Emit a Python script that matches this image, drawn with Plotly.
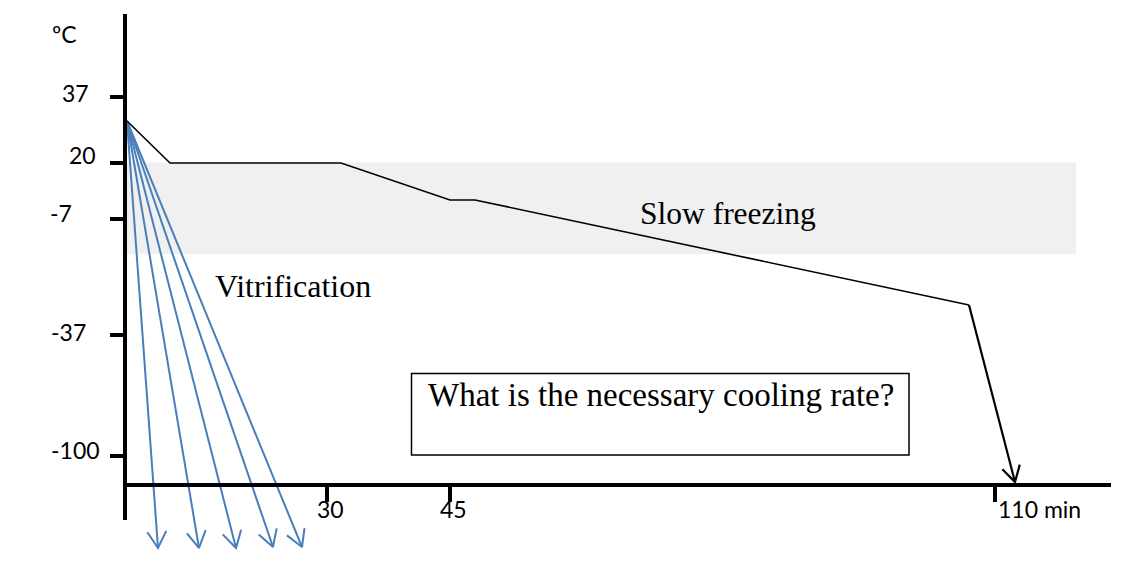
import numpy as np
import plotly.graph_objects as go

# ---------------- data (schematic diagram units: u = time axis, v = temperature axis) -------------
Y_TICK_POS = [388, 322, 266, 150, 29]
Y_TICK_TEXT = ["37", "20", "-7", "-37", "-100"]
Y_UNIT = "ºC"

X_TICK_POS = [202, 325, 870]
X_TICK_TEXT = ["30", "45", "110 min"]

# slow-freezing curve
SLOW_U = [2, 45, 216, 325, 350, 844, 890]
SLOW_V = [364, 322, 322, 285, 285, 180, 3]

# vitrification arrows (common start, five end points)
VIT_START_U = 2
VIT_START_V = 364
VIT_END_U = [33, 74, 111, 148, 177]
VIT_END_V = [-63, -63, -63, -62, -62]

# slow freezing zone
BAND_U = [0, 951]
BAND_V = [231, 322.5]

LABEL_VIT = "Vitrification"
LABEL_SLOW = "Slow freezing"
QUESTION = "What is the necessary cooling rate?"

# ---------------- layout constants -------------
PAGE_MARGIN = 8          # default body margin of the html page
W, H = 1140 - PAGE_MARGIN, 582 - PAGE_MARGIN
AX_X = 125 - PAGE_MARGIN   # figure pixel column of the vertical axis
AX_Y = 485 - PAGE_MARGIN   # figure pixel row of the horizontal axis
BLUE = "#4A7EBB"
SANS = "Lato"
SERIF = "Liberation Serif"


def U(px):   # screen pixel column -> diagram u
    return px - 125


def V(py):   # screen pixel row -> diagram v
    return 485 - py


fig = go.Figure()

# grey band
fig.add_shape(type="rect", x0=BAND_U[0], x1=BAND_U[1], y0=BAND_V[0], y1=BAND_V[1],
              xref="x", yref="y", fillcolor="#F0F0F0", line=dict(width=0), layer="below")


def arrow_head(u, v, length=18, half_angle_deg=30):
    du, dv = u[-1] - u[-2], v[-1] - v[-2]
    n = np.hypot(du, dv)
    du, dv = du / n, dv / n
    out_u, out_v = [], []
    for s in (1, -1):
        a = np.deg2rad(s * half_angle_deg)
        ru = du * np.cos(a) - dv * np.sin(a)
        rv = du * np.sin(a) + dv * np.cos(a)
        out_u.append(u[-1] - length * ru)
        out_v.append(v[-1] - length * rv)
    return [out_u[0], u[-1], out_u[1]], [out_v[0], v[-1], out_v[1]]


# vitrification arrows
for eu, ev in zip(VIT_END_U, VIT_END_V):
    uu, vv = [VIT_START_U, eu], [VIT_START_V, ev]
    fig.add_trace(go.Scatter(x=uu, y=vv, mode="lines", line=dict(color=BLUE, width=2),
                             hoverinfo="skip", showlegend=False))
    hu, hv = arrow_head(uu, vv, length=19, half_angle_deg=30)
    fig.add_trace(go.Scatter(x=hu, y=hv, mode="lines", line=dict(color=BLUE, width=2),
                             hoverinfo="skip", showlegend=False))

# slow freezing curve
fig.add_trace(go.Scatter(x=SLOW_U[:-1], y=SLOW_V[:-1], mode="lines",
                         line=dict(color="black", width=1.6), hoverinfo="skip", showlegend=False))
fig.add_trace(go.Scatter(x=SLOW_U[-2:], y=SLOW_V[-2:], mode="lines",
                         line=dict(color="black", width=2.2), hoverinfo="skip", showlegend=False))
hu, hv = arrow_head(SLOW_U, SLOW_V, length=18, half_angle_deg=30)
fig.add_trace(go.Scatter(x=hu, y=hv, mode="lines", line=dict(color="black", width=2.2),
                         hoverinfo="skip", showlegend=False))

# axis lines
fig.add_trace(go.Scatter(x=[0, 0], y=[V(14), V(520)], mode="lines",
                         line=dict(color="black", width=4), hoverinfo="skip", showlegend=False))
fig.add_trace(go.Scatter(x=[-2, U(1111)], y=[0, 0], mode="lines",
                         line=dict(color="black", width=4), hoverinfo="skip", showlegend=False))

# question box
fig.add_shape(type="rect", x0=U(411.5), x1=U(909), y0=V(455), y1=V(373.5),
              xref="x", yref="y", line=dict(color="black", width=1.5), fillcolor="rgba(0,0,0,0)")

ann = []
# y tick labels (placement offsets as in the drawing)
y_lab_right = [91, 98, 74, 88, 102]
y_lab_dy = [-4, -8, -5.7, -3.3, -5.7]
for pos, txt, xr, dy in zip(Y_TICK_POS, Y_TICK_TEXT, y_lab_right, y_lab_dy):
    ann.append(dict(x=U(xr), y=pos - dy, text=txt, xref="x", yref="y", showarrow=False,
                    xanchor="right", yanchor="middle", font=dict(family=SANS, size=23, color="black")))
ann.append(dict(x=U(64), y=V(34), text=Y_UNIT, xref="x", yref="y", showarrow=False,
                xanchor="center", yanchor="middle", font=dict(family=SANS, size=23, color="black")))
# x tick labels
x_lab_dx = [3, 3, 1]
x_lab_anchor = ["center", "center", "left"]
for pos, txt, dx, xa in zip(X_TICK_POS, X_TICK_TEXT, x_lab_dx, x_lab_anchor):
    ann.append(dict(x=pos + dx, y=-24, text=txt, xref="x", yref="y", showarrow=False,
                    xanchor=xa, yanchor="middle", font=dict(family=SANS, size=23, color="black")))

# serif labels
ann.append(dict(x=U(213), y=V(286), text=LABEL_VIT, xref="x", yref="y", showarrow=False,
                xanchor="left", yanchor="middle", font=dict(family=SERIF, size=32, color="black")))
ann.append(dict(x=U(638), y=V(213), text=LABEL_SLOW, xref="x", yref="y", showarrow=False,
                xanchor="left", yanchor="middle", font=dict(family=SERIF, size=31.5, color="black")))
ann.append(dict(x=U(426), y=V(395), text=QUESTION, xref="x", yref="y", showarrow=False,
                xanchor="left", yanchor="middle", font=dict(family=SERIF, size=33, color="black")))

fig.update_layout(
    width=W, height=H, margin=dict(l=0, r=0, t=0, b=0),
    paper_bgcolor="white", plot_bgcolor="white",
    annotations=ann, showlegend=False,
    xaxis=dict(range=[-AX_X, W - AX_X], showgrid=False, zeroline=False, showline=False,
               tickvals=X_TICK_POS, ticks="outside", ticklen=16, tickwidth=4, tickcolor="black",
               showticklabels=False, anchor="free", position=(H - AX_Y) / H, fixedrange=True),
    yaxis=dict(range=[AX_Y - H, AX_Y], showgrid=False, zeroline=False, showline=False,
               tickvals=Y_TICK_POS, ticks="outside", ticklen=15, tickwidth=4, tickcolor="black",
               showticklabels=False, anchor="free", position=AX_X / W, fixedrange=True),
)

fig.write_html("out.html")
